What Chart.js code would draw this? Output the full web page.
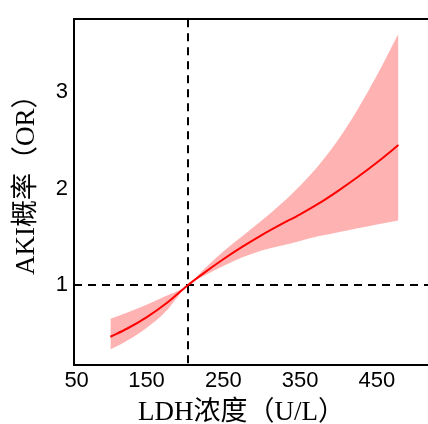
<!DOCTYPE html>
<html>
<head>
<meta charset="utf-8">
<script src="https://cdn.jsdelivr.net/npm/chart.js@4.4.1/dist/chart.umd.min.js"></script>
<style>
html,body{margin:0;padding:0;background:#fff;}
#wrap{width:428px;height:424px;position:relative;}
</style>
</head>
<body>
<div id="wrap"><canvas id="c" width="428" height="424"></canvas></div>
<script>
// ---- data ----
const ldh     = [103, 125, 150, 175, 203.4, 225, 250, 275, 300, 325, 350, 375, 400, 425, 450, 478];
const orFit   = [0.47, 0.555, 0.67, 0.81, 1.0, 1.13, 1.27, 1.40, 1.52, 1.63, 1.735, 1.85, 1.98, 2.12, 2.27, 2.45];
const orLower = [0.337, 0.43, 0.56, 0.73, 1.0, 1.10, 1.20, 1.29, 1.36, 1.41, 1.46, 1.51, 1.55, 1.59, 1.63, 1.67];
const orUpper = [0.655, 0.72, 0.80, 0.89, 1.0, 1.17, 1.35, 1.51, 1.67, 1.84, 2.03, 2.25, 2.51, 2.82, 3.17, 3.60];
const refLDH = 203.4;
const refOR = 1;
const xTickValues = [59, 150, 250, 350, 450];
const xTickLabels = ['50', '150', '250', '350', '450'];
const yTickValues = [1, 2, 3];
const xTitle = 'LDH浓度（U/L）';
const yTitle = 'AKI概率（OR）';
const xRange = [55.6, 516.5];
const yRange = [0.178, 3.75];

const pts = arr => ldh.map((x, i) => ({x: x, y: arr[i]}));

const refLines = {
  id: 'refLines',
  beforeDatasetsDraw(chart) {
    const {ctx, chartArea: a, scales: {x, y}} = chart;
    ctx.save();
    ctx.strokeStyle = '#000';
    ctx.lineWidth = 2;
    ctx.setLineDash([8, 6]);
    const py = Math.round(y.getPixelForValue(refOR));
    ctx.beginPath(); ctx.moveTo(a.left, py); ctx.lineTo(a.right, py); ctx.stroke();
    const px = Math.round(x.getPixelForValue(refLDH));
    ctx.beginPath(); ctx.moveTo(px, a.top); ctx.lineTo(px, a.bottom); ctx.stroke();
    ctx.restore();
  }
};

const titles = {
  id: 'titles',
  afterDraw(chart) {
    const {ctx} = chart;
    ctx.save();
    ctx.fillStyle = '#000';
    ctx.font = '27px "Liberation Serif", "Noto Sans CJK SC", serif';
    ctx.textAlign = 'left';
    ctx.textBaseline = 'alphabetic';
    ctx.fillText(xTitle, 138, 420);
    ctx.translate(34, 275);
    ctx.rotate(-Math.PI / 2);
    ctx.fillText(yTitle, 0, 0);
    ctx.restore();
  }
};

new Chart(document.getElementById('c'), {
  type: 'line',
  data: {
    datasets: [
      {data: pts(orLower), borderWidth: 0, pointRadius: 0, fill: false, cubicInterpolationMode: 'monotone', borderColor: 'rgba(0,0,0,0)'},
      {data: pts(orUpper), borderWidth: 0, pointRadius: 0, fill: '-1', backgroundColor: 'rgba(255,0,0,0.3)', cubicInterpolationMode: 'monotone', borderColor: 'rgba(0,0,0,0)'},
      {data: pts(orFit), borderWidth: 2, pointRadius: 0, fill: false, borderColor: '#ff0000', cubicInterpolationMode: 'monotone'}
    ]
  },
  options: {
    responsive: false,
    animation: false,
    devicePixelRatio: 1,
    layout: {padding: {top: 13, right: 0, left: 0, bottom: 0}},
    plugins: {legend: {display: false}, tooltip: {enabled: false}},
    scales: {
      x: {
        type: 'linear', position: 'bottom', min: xRange[0], max: xRange[1],
        grid: {display: false, drawTicks: false},
        border: {display: true, color: '#000', width: 2},
        afterBuildTicks: s => { s.ticks = xTickValues.map(v => ({value: v})); },
        afterFit: s => { s.height = 59; },
        ticks: {
          padding: 3, color: '#000', maxRotation: 0, autoSkip: false,
          font: {family: '"Liberation Sans", Arial, sans-serif', size: 22},
          callback: (v, i) => xTickLabels[i]
        }
      },
      xTop: {
        type: 'linear', position: 'top', min: xRange[0], max: xRange[1],
        grid: {display: false, drawTicks: false},
        border: {display: true, color: '#000', width: 2},
        ticks: {display: false},
        afterFit: s => { s.height = 0; }
      },
      y: {
        type: 'linear', min: yRange[0], max: yRange[1],
        grid: {display: false, drawTicks: false},
        border: {display: true, color: '#000', width: 2},
        afterBuildTicks: s => { s.ticks = yTickValues.map(v => ({value: v})); },
        afterFit: s => { s.width = 74; },
        ticks: {
          padding: 6, color: '#000',
          font: {family: '"Liberation Sans", Arial, sans-serif', size: 22},
          callback: v => String(v)
        }
      }
    }
  },
  plugins: [refLines, titles]
});
</script>
</body>
</html>
